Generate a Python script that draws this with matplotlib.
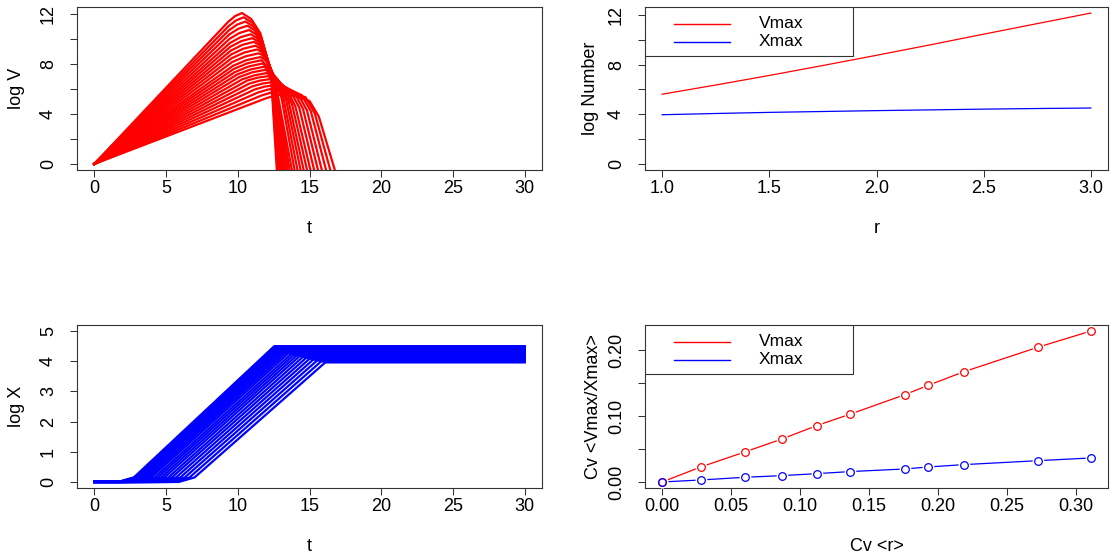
import matplotlib.pyplot as plt
import numpy as np
from matplotlib.patches import Rectangle

plt.rcParams['font.family'] = ['Liberation Sans', 'DejaVu Sans']

# --- top left: log V trajectories, one entry per run (slowest -> fastest growth)
# vertices read off the bundle: rise end, before peak, peak, after peak,
# shoulder end, crash, zero crossing
v_t1 = [11.93, 11.66, 11.41, 11.18, 10.99, 10.82, 10.67, 10.30, 10.10, 9.95, 9.79, 9.73,
        9.67, 9.61, 9.58, 9.54, 9.52, 9.48, 9.46, 9.44, 9.41, 9.39, 9.37, 9.34]
v_v1 = [5.25, 5.49, 5.73, 5.97, 6.21, 6.45, 6.69, 6.78, 6.97, 7.17, 7.36, 7.62,
        7.87, 8.17, 8.48, 8.78, 9.09, 9.39, 9.70, 10.04, 10.38, 10.72, 11.06, 11.40]
v_ta = [12.57, 12.31, 12.08, 11.87, 11.70, 11.54, 11.39, 11.17, 11.02, 10.90, 10.77, 10.70,
        10.62, 10.54, 10.47, 10.39, 10.33, 10.25, 10.19, 10.12, 10.04, 9.97, 9.90, 9.82]
v_va = [5.48, 5.72, 5.96, 6.20, 6.44, 6.68, 6.92, 7.11, 7.35, 7.58, 7.82, 8.08,
        8.33, 8.63, 8.94, 9.24, 9.55, 9.85, 10.16, 10.50, 10.84, 11.18, 11.52, 11.86]
v_tp = [13.20, 12.95, 12.75, 12.55, 12.40, 12.25, 12.10, 12.03, 11.94, 11.85, 11.75, 11.66,
        11.57, 11.46, 11.35, 11.24, 11.13, 11.02, 10.91, 10.79, 10.67, 10.54, 10.42, 10.30]
v_vp = [5.60, 5.84, 6.08, 6.32, 6.56, 6.80, 7.04, 7.29, 7.55, 7.80, 8.06, 8.32,
        8.57, 8.87, 9.18, 9.48, 9.79, 10.09, 10.40, 10.74, 11.08, 11.42, 11.76, 12.10]
v_t2 = [14.10, 13.84, 13.60, 13.36, 13.16, 12.96, 12.75, 12.60, 12.45, 12.33, 12.20, 12.11,
        11.79, 11.72, 11.65, 11.57, 11.50, 11.42, 11.35, 11.27, 11.19, 11.10, 11.02, 10.94]
v_v2 = [5.41, 5.68, 5.89, 6.08, 6.26, 6.43, 6.63, 6.88, 7.13, 7.36, 7.56, 7.74,
        8.46, 8.73, 9.00, 9.27, 9.55, 9.82, 10.09, 10.40, 10.71, 11.01, 11.31, 11.62]
v_t3 = [15.00, 14.72, 14.45, 14.17, 13.92, 13.66, 13.40, 13.17, 12.95, 12.80, 12.65, 12.55,
        12.01, 11.97, 11.94, 11.90, 11.86, 11.82, 11.78, 11.74, 11.70, 11.65, 11.61, 11.57]
v_v3 = [5.05, 5.35, 5.53, 5.67, 5.79, 5.90, 6.05, 6.30, 6.55, 6.75, 6.90, 7.00,
        8.20, 8.39, 8.59, 8.79, 8.99, 9.18, 9.38, 9.61, 9.83, 10.05, 10.27, 10.49]
v_t4 = [15.65, 15.37, 15.10, 14.82, 14.55, 14.29, 14.02, 13.78, 13.55, 13.38, 13.20, 13.05,
        12.54, 12.51, 12.48, 12.46, 12.44, 12.42, 12.40, 12.38, 12.36, 12.34, 12.32, 12.30]
v_v4 = [3.80, 4.05, 4.20, 4.30, 4.40, 4.50, 4.60, 4.80, 5.00, 5.10, 5.20, 5.30,
        7.03, 7.08, 7.13, 7.16, 7.19, 7.22, 7.25, 7.28, 7.31, 7.34, 7.37, 7.40]
v_tz = [16.90, 16.57, 16.27, 15.97, 15.70, 15.43, 15.17, 14.93, 14.69, 14.47, 14.25, 14.04,
        13.86, 13.69, 13.55, 13.41, 13.29, 13.19, 13.09, 13.00, 12.93, 12.86, 12.81, 12.75]
v_gone = -1.0

# --- bottom left: log X trajectories (same runs)
x_onset = [5.89, 5.54, 5.21, 4.90, 4.60, 4.31, 4.06, 3.79, 3.56, 3.33, 3.12, 2.89,
           2.71, 2.55, 2.40, 2.25, 2.13, 2.05, 1.96, 1.88, 1.80, 1.76, 1.71, 1.66]
x_kink = [6.99, 6.64, 6.31, 6.00, 5.70, 5.41, 5.16, 4.89, 4.66, 4.43, 4.22, 3.99,
          3.81, 3.65, 3.50, 3.35, 3.23, 3.15, 3.06, 2.98, 2.90, 2.86, 2.81, 2.76]
x_kink_v = 0.15
x_sat = [16.10, 15.80, 15.52, 15.25, 15.00, 14.76, 14.53, 14.31, 14.10, 13.90, 13.71, 13.53,
         13.37, 13.23, 13.11, 13.00, 12.91, 12.83, 12.76, 12.70, 12.65, 12.61, 12.58, 12.55]
x_max = [3.96, 3.99, 4.02, 4.05, 4.08, 4.11, 4.14, 4.17, 4.19, 4.21, 4.23, 4.26,
         4.28, 4.30, 4.32, 4.35, 4.37, 4.39, 4.41, 4.43, 4.45, 4.46, 4.48, 4.50]
t_end = 30

# --- top right
r_grid = [1.0, 1.25, 1.5, 1.75, 2.0, 2.25, 2.5, 2.75, 3.0]
vmax_log = [5.61, 6.35, 7.12, 7.92, 8.74, 9.58, 10.44, 11.29, 12.14]
xmax_log = [3.96, 4.06, 4.15, 4.22, 4.29, 4.35, 4.41, 4.46, 4.50]

# --- bottom right
cv_r = [0.0, 0.028, 0.060, 0.087, 0.112, 0.136, 0.176, 0.193, 0.219, 0.273, 0.311]
cv_vmax = [0.0, 0.0227, 0.0455, 0.0652, 0.0854, 0.1025, 0.1323, 0.1465, 0.1672, 0.2045, 0.2288]
cv_xmax = [0.0, 0.0030, 0.0071, 0.0096, 0.0126, 0.0157, 0.0197, 0.0227, 0.0263, 0.0323, 0.0364]

W, H = 1115.0, 558.0


def r_range(lo, hi):
    d = 0.04 * (hi - lo)
    return lo - d, hi + d


def panel(x0, y0, x1, y1):
    return fig.add_axes([x0 / W, 1 - y1 / H, (x1 - x0) / W, (y1 - y0) / H])


def style(ax, xt, yt, ylabs, xlabel, ylabel, ypad):
    ax.set_xticks(xt)
    ax.set_yticks(yt)
    ax.set_yticklabels(ylabs)
    ax.tick_params(direction='out', length=5, width=0.75, labelsize=13, pad=2, color='#333333')
    ax.tick_params(axis='y', labelrotation=90, pad=9.5)
    for lab in ax.get_yticklabels():
        lab.set_va('center')
    for s in ax.spines.values():
        s.set_linewidth(0.8)
        s.set_color('#333333')
    ax.set_xlabel(xlabel, fontsize=13, labelpad=17)
    ax.set_ylabel(ylabel, fontsize=13, labelpad=ypad)


def r_legend(ax, bw, bh):
    # R style boxed legend in the top left corner (pixel offsets inside the box)
    ax.add_patch(Rectangle((0, 1 - 49 / bh), 208 / bw, 49 / bh, transform=ax.transAxes,
                           facecolor='white', edgecolor='#333333', lw=0.8, zorder=5))
    for k, (lab, col) in enumerate(zip(['Vmax', 'Xmax'], ['#ff0000', '#0000ff'])):
        yy = 1 - (17 + 18 * k) / bh
        ax.plot([29 / bw, 85 / bw], [yy, yy], transform=ax.transAxes, color=col, lw=1.0, zorder=6)
        ax.text(114 / bw, yy, lab, transform=ax.transAxes, va='center', ha='left',
                fontsize=12.5, zorder=6)


fig = plt.figure(figsize=(W / 100, H / 100), dpi=100)

# top left
ax1 = panel(77, 7, 542, 170)
for i in range(len(v_tz)):
    ax1.plot([0, v_t1[i], v_ta[i], v_tp[i], v_t2[i], v_t3[i], v_t4[i], v_tz[i]],
             [0, v_v1[i], v_va[i], v_vp[i], v_v2[i], v_v3[i], v_v4[i], v_gone],
             color='#ff0000', lw=1.6, solid_joinstyle='round')
ax1.set_xlim(r_range(0, 30))
ax1.set_ylim(r_range(0, max(v_vp)))
style(ax1, [0, 5, 10, 15, 20, 25, 30], [0, 2, 4, 6, 8, 10, 12],
      ['0', '', '4', '', '8', '', '12'], 't', 'log V', 11)

# top right
ax2 = panel(645, 7, 1108, 170)
ax2.plot(r_grid, vmax_log, color='#ff0000', lw=0.9)
ax2.plot(r_grid, xmax_log, color='#0000ff', lw=0.9)
ax2.set_xlim(r_range(1.0, 3.0))
ax2.set_ylim(r_range(0, max(vmax_log)))
style(ax2, [1.0, 1.5, 2.0, 2.5, 3.0], [0, 2, 4, 6, 8, 10, 12],
      ['0', '', '4', '', '8', '', '12'], 'r', 'log Number', 6.5)
ax2.set_xticklabels(['1.0', '1.5', '2.0', '2.5', '3.0'])
r_legend(ax2, 463.0, 163.0)

# bottom left
ax3 = panel(77, 325, 542, 488)
for i in range(len(x_sat)):
    ax3.plot([0, x_onset[i], x_kink[i], x_sat[i], t_end],
             [0, 0, x_kink_v, x_max[i], x_max[i]], color='#0000ff', lw=1.6,
             solid_joinstyle='round')
ax3.set_xlim(r_range(0, 30))
ax3.set_ylim(r_range(0, 5))
style(ax3, [0, 5, 10, 15, 20, 25, 30], [0, 1, 2, 3, 4, 5],
      ['0', '1', '2', '3', '4', '5'], 't', 'log X', 11)

# bottom right
ax4 = panel(645, 325, 1108, 488)
for yv, col in [(cv_vmax, '#ff0000'), (cv_xmax, '#0000ff')]:
    ax4.plot(cv_r, yv, color=col, lw=0.9, zorder=2)
    ax4.plot(cv_r, yv, 'o', ms=8.5, mfc='white', mec='none', zorder=3)
    ax4.plot(cv_r, yv, 'o', ms=5.5, mfc='none', mec=col, mew=0.9, zorder=4)
ax4.set_xlim(r_range(0, max(cv_r)))
ax4.set_ylim(r_range(0, max(cv_vmax)))
style(ax4, [0, 0.05, 0.10, 0.15, 0.20, 0.25, 0.30], [0, 0.05, 0.10, 0.15, 0.20],
      ['0.00', '', '0.10', '', '0.20'], 'Cv <r>', 'Cv <Vmax/Xmax>', 4.5)
ax4.set_xticklabels(['0.00', '0.05', '0.10', '0.15', '0.20', '0.25', '0.30'])
r_legend(ax4, 463.0, 163.0)

plt.savefig('out.png', dpi=100)
